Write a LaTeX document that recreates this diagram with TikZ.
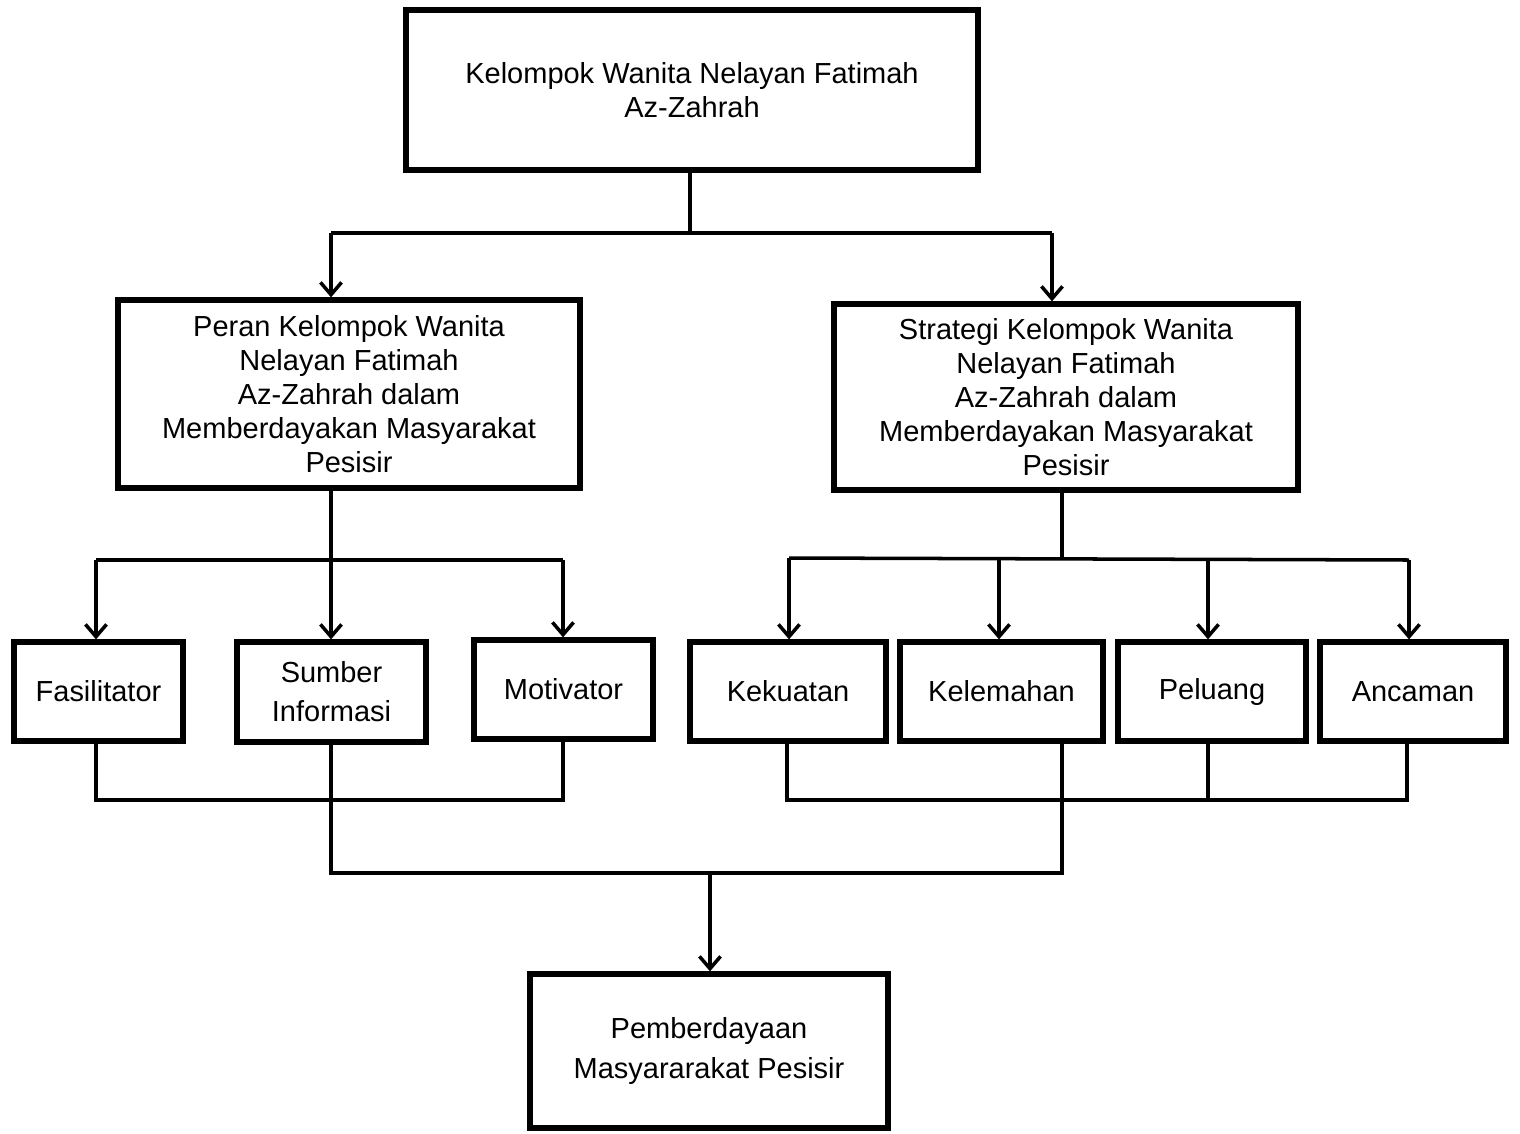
\documentclass[tikz,border=0pt]{standalone}
\usepackage{fontspec}
\setmainfont{Liberation Sans}
\usetikzlibrary{arrows.meta}
\tikzset{
  kotak/.style 2 args={draw, line width=3pt, align=center, inner sep=2pt,
    minimum width=#1*0.02cm, minimum height=#2*0.02cm,
    font=\fontsize{16.5}{19.3}\selectfont},
  garis/.style={line width=2pt},
  panah/.style={garis, -{Straight Barb[length=7pt,width=12pt]}},
}

\begin{document}
\begin{tikzpicture}[x=0.02cm, y=-0.02cm]
  \useasboundingbox (0,0) rectangle (1520,1133);
  \path
  (692,90) node[kotak={572}{160}] (top) {Kelompok Wanita Nelayan Fatimah\\ Az-Zahrah}
  (349,394) node[kotak={462}{188}] (peran) {
    Peran Kelompok Wanita\\
    Nelayan Fatimah\\
    Az-Zahrah dalam\\
    Memberdayakan Masyarakat\\
    Pesisir}
  (1066,397) node[kotak={464}{186}] (strategi) {
    Strategi Kelompok Wanita\\
    Nelayan Fatimah\\
    Az-Zahrah dalam\\
    Memberdayakan Masyarakat\\
    Pesisir}
  (98.5,691.5) node[kotak={169}{99}] (fasil) {Fasilitator}
  (331.5,692) node[kotak={189}{100}] (sumber) {Sumber\\[3pt] Informasi}
  (563.5,689.5) node[kotak={179}{99}] (motiv) {Motivator}
  (788,691.5) node[kotak={196}{99}] (kuat) {Kekuatan}
  (1001.5,691.5) node[kotak={203}{99}] (lemah) {Kelemahan}
  (1212,691.5) node[kotak={188}{99}] (peluang) {Peluang}
  (1413,691.5) node[kotak={186}{99}] (ancam) {Ancaman}
  (709,1051) node[kotak={358}{154}] (hasil) {Pemberdayaan\\[3pt] Masyararakat Pesisir}
  ;

  % dari atas ke peran dan strategi
  \coordinate (t0) at (690,233);
  \coordinate (t1) at (331,233);
  \coordinate (t2) at (1052,233);
  \draw[garis] (top.south -| t0) -- (t0);
  \draw[garis] (t1) -- (t2);
  \draw[panah] (t1) -- (t1 |- peran.north);
  \draw[panah] (t2) -- (t2 |- strategi.north);

  % cabang peran
  \coordinate (p0) at (331,560);
  \coordinate (p1) at (96,560);
  \coordinate (p2) at (563,560);
  \draw[garis] (peran.south -| p0) -- (p0);
  \draw[garis] (p1) -- (p2);
  \draw[panah] (p1) -- (p1 |- fasil.north);
  \draw[panah] (p0) -- (p0 |- sumber.north);
  \draw[panah] (p2) -- (p2 |- motiv.north);

  % cabang strategi
  \coordinate (s0) at (1062,558);
  \coordinate (s1) at (789,558);
  \coordinate (s2) at (999,559);
  \coordinate (s3) at (1208,559);
  \coordinate (s4) at (1409,560);
  \draw[garis] (strategi.south -| s0) -- (s0);
  \draw[garis] (s1) -- (s4);
  \draw[panah] (s1) -- (s1 |- kuat.north);
  \draw[panah] (s2) -- (s2 |- lemah.north);
  \draw[panah] (s3) -- (s3 |- peluang.north);
  \draw[panah] (s4) -- (s4 |- ancam.north);

  % gabungan bawah
  \coordinate (b1) at (96,800);
  \coordinate (b2) at (563,800);
  \coordinate (b3) at (787,800);
  \coordinate (b4) at (1208,800);
  \coordinate (b5) at (1407,800);
  \coordinate (c1) at (331,873);
  \coordinate (c2) at (1062,873);
  \coordinate (c0) at (710,873);
  \draw[garis] (fasil.south -| b1) -- (b1) -- (b2) -- (b2 |- motiv.south);
  \draw[garis] (kuat.south -| b3) -- (b3) -- (b5) -- (b5 |- ancam.south);
  \draw[garis] (peluang.south -| b4) -- (b4);
  \draw[garis] (sumber.south -| c1) -- (c1) -- (c2) -- (c2 |- lemah.south);
  \draw[panah] (c0) -- (c0 |- hasil.north);
\end{tikzpicture}
\end{document}
